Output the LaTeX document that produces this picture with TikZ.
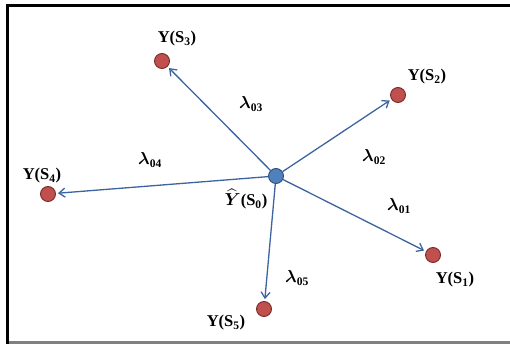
\documentclass[tikz,border=0pt]{standalone}
\usepackage{amsmath}
\usepackage{fontspec}
\setmainfont{Liberation Serif}
\usetikzlibrary{arrows.meta}
\definecolor{arrblue}{RGB}{60,100,160}
\definecolor{srcfill}{RGB}{79,129,189}
\definecolor{srcline}{RGB}{44,77,118}
\definecolor{ptfill}{RGB}{192,80,77}
\definecolor{ptline}{RGB}{120,40,38}
\newcommand{\rate}[1]{$\boldsymbol{\lambda}$\textsubscript{#1}}
\tikzset{
  src/.style={circle,fill=srcfill,draw=srcline,line width=0.9pt,inner sep=0pt,minimum size=15pt},
  pt/.style={circle,fill=ptfill,draw=ptline,line width=0.9pt,inner sep=0pt,minimum size=15pt},
  arr/.style={draw=arrblue,line width=1.3pt,shorten >=2pt,-{Straight Barb[length=6pt,width=9pt]}},
  lab/.style={font=\fontsize{16.5}{18}\selectfont\bfseries,inner sep=0pt}
}
\begin{document}
\begin{tikzpicture}[x=1pt,y=-1pt]
  \clip (0,0) rectangle (510,344);
  \useasboundingbox (0,0) rectangle (510,344);
  % frame
  \draw[gray,line width=2.5pt] (7,342.5) -- (512,342.5);
  \draw[line width=3pt] (7,344) -- (7,5.8) -- (512,5.8);
  % points
  \node[src] (s0) at (276,176) {};
  \node[pt] (s1) at (433,255) {};
  \node[pt] (s2) at (398,95) {};
  \node[pt] (s3) at (162,61) {};
  \node[pt] (s4) at (48,194) {};
  \node[pt] (s5) at (264,309) {};
  % arrows
  \draw[arr] (s0) -- (s1);
  \draw[arr] (s0) -- (s2);
  \draw[arr] (s0) -- (s3);
  \draw[arr] (s0) -- (s4);
  \draw[arr] (s0) -- (s5);
  % point labels
  \node[lab] (y0) at (246,199) {$\widehat{\boldsymbol{Y}}$(S\textsubscript{0})};
  \node[lab] (y1) at (455,280) {Y(S\textsubscript{1})};
  \node[lab] (y2) at (427,77) {Y(S\textsubscript{2})};
  \node[lab] (y3) at (177,39) {Y(S\textsubscript{3})};
  \node[lab] (y4) at (42,176) {Y(S\textsubscript{4})};
  \node[lab] (y5) at (226,323) {Y(S\textsubscript{5})};
  % rates
  \node[lab] (l01) at (399,206) {\rate{01}};
  \node[lab] (l02) at (374,157) {\rate{02}};
  \node[lab] (l03) at (251,104) {\rate{03}};
  \node[lab] (l04) at (150,160) {\rate{04}};
  \node[lab] (l05) at (297,278) {\rate{05}};
\end{tikzpicture}
\end{document}
